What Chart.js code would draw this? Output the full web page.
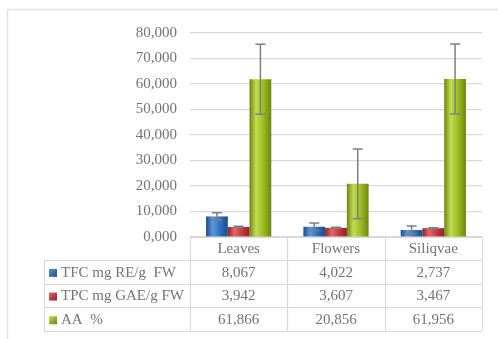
<!DOCTYPE html>
<html>
<head>
<meta charset="utf-8">
<script src="https://cdn.jsdelivr.net/npm/chart.js@4.4.1/dist/chart.umd.min.js"></script>
<style>
  html, body { margin: 0; padding: 0; background: #ffffff; }
  canvas { display: block; }
</style>
</head>
<body>
<canvas id="chart" width="498" height="339"></canvas>
<script>
// chart data
const categories = ["Leaves", "Flowers", "Siliqvae"];
const seriesNames = ["TFC mg RE/g  FW", "TPC mg GAE/g FW", "AA  %"];
const tfcValues = [8.067, 4.022, 2.737];
const tpcValues = [3.942, 3.607, 3.467];
const aaValues = [61.866, 20.856, 61.956];
const tfcErrors = [1.4, 1.5, 1.55];
const tpcErrors = [0.25, 0.2, 0.2];
const aaErrors = [13.7, 13.7, 13.75];
const yTicks = [0, 10, 20, 30, 40, 50, 60, 70, 80];

const FONT = "'Liberation Serif', 'Times New Roman', serif";
const TEXT_COLOR = "#737373";
const LINE_COLOR = "#d9d9d9";

// dark edge, highlight, base, dark edge
const shades = [
    ["#1d4b86", "#5b97dc", "#2f6fbf", "#1d4b86"],
    ["#8e2224", "#e2676a", "#c53a3c", "#8e2224"],
    ["#6b8612", "#c2dc52", "#9bbb1e", "#6b8612"],
];

const formatNum = (v) => v.toFixed(3).replace(".", ",");

// frame around the chart
const framePlugin = {
    id: "frame",
    beforeDraw(chart) {
        const ctx = chart.ctx;
        ctx.save();
        ctx.strokeStyle = "#e2e2e2";
        ctx.lineWidth = 1.5;
        ctx.beginPath();
        ctx.moveTo(7.5, 339);
        ctx.lineTo(7.5, 9.5);
        ctx.lineTo(498, 9.5);
        ctx.stroke();
        ctx.restore();
    },
};

// cylinder-like shading for each bar
const shadePlugin = {
    id: "shade",
    beforeDatasetsDraw(chart) {
        const ctx = chart.ctx;
        chart.data.datasets.forEach((ds, di) => {
            const meta = chart.getDatasetMeta(di);
            const s = shades[di];
            meta.data.forEach((bar) => {
                const left = bar.x - bar.width / 2;
                const g = ctx.createLinearGradient(left, 0, left + bar.width, 0);
                g.addColorStop(0, s[0]);
                g.addColorStop(0.3, s[1]);
                g.addColorStop(0.65, s[2]);
                g.addColorStop(1, s[3]);
                bar.options.backgroundColor = g;
            });
        });
    },
};

// error bars
const errorBarPlugin = {
    id: "errorBars",
    afterDatasetsDraw(chart) {
        const ctx = chart.ctx;
        const y = chart.scales.y;
        ctx.save();
        ctx.strokeStyle = "#7f7f7f";
        ctx.lineWidth = 1.5;
        chart.data.datasets.forEach((ds, di) => {
            const meta = chart.getDatasetMeta(di);
            meta.data.forEach((bar, i) => {
                const v = ds.data[i];
                const e = ds.errors[i];
                const top = y.getPixelForValue(v + e);
                const bot = y.getPixelForValue(v - e);
                ctx.beginPath();
                ctx.moveTo(bar.x, top);
                ctx.lineTo(bar.x, bot);
                ctx.moveTo(bar.x - 5, top);
                ctx.lineTo(bar.x + 5, top);
                ctx.moveTo(bar.x - 5, bot);
                ctx.lineTo(bar.x + 5, bot);
                ctx.stroke();
            });
        });
        ctx.restore();
    },
};

// data table below the plot
const tablePlugin = {
    id: "dataTable",
    afterDraw(chart) {
        const ctx = chart.ctx;
        const area = chart.chartArea;
        const x = chart.scales.x;
        const colW = (area.right - area.left) / categories.length;
        const headTop = area.bottom;
        const rowTop = 260;
        const rowH = 23.7;
        const tableLeft = 44;
        const tableBottom = rowTop + rowH * seriesNames.length;

        ctx.save();
        ctx.strokeStyle = LINE_COLOR;
        ctx.lineWidth = 1.2;
        ctx.beginPath();
        // vertical lines of the value columns
        for (let i = 0; i <= categories.length; i++) {
            const lx = Math.round(area.left + i * colW) + 0.5;
            ctx.moveTo(lx, headTop);
            ctx.lineTo(lx, tableBottom);
        }
        ctx.moveTo(tableLeft + 0.5, rowTop);
        ctx.lineTo(tableLeft + 0.5, tableBottom);
        // horizontal lines
        ctx.moveTo(area.left, headTop + 0.5);
        ctx.lineTo(area.right, headTop + 0.5);
        for (let r = 0; r <= seriesNames.length; r++) {
            const ly = Math.round(rowTop + r * rowH) + 0.5;
            ctx.moveTo(tableLeft, ly);
            ctx.lineTo(area.right, ly);
        }
        ctx.stroke();

        ctx.fillStyle = TEXT_COLOR;
        ctx.font = "15px " + FONT;
        ctx.textBaseline = "middle";
        ctx.textAlign = "center";
        categories.forEach((c, i) => {
            ctx.fillText(c, x.getPixelForValue(i), headTop + (rowTop - headTop) / 2 + 1);
        });

        chart.data.datasets.forEach((ds, di) => {
            const cy = rowTop + rowH * di + rowH / 2 + 1;
            // legend key
            const s = shades[di];
            const g = ctx.createLinearGradient(49, cy - 4, 57, cy + 4);
            g.addColorStop(0, s[1]);
            g.addColorStop(1, s[0]);
            ctx.fillStyle = g;
            ctx.fillRect(49, cy - 4, 8, 8);
            ctx.fillStyle = TEXT_COLOR;
            ctx.textAlign = "left";
            ctx.fillText(ds.label, 61, cy);
            ctx.textAlign = "center";
            ds.data.forEach((v, i) => {
                ctx.fillText(formatNum(v), x.getPixelForValue(i), cy);
            });
        });
        ctx.restore();
    },
};

new Chart(document.getElementById("chart"), {
    type: "bar",
    data: {
        labels: categories,
        datasets: [
            { label: seriesNames[0], data: tfcValues, errors: tfcErrors, backgroundColor: () => shades[0][2] },
            { label: seriesNames[1], data: tpcValues, errors: tpcErrors, backgroundColor: () => shades[1][2] },
            { label: seriesNames[2], data: aaValues, errors: aaErrors, backgroundColor: () => shades[2][2] },
        ],
    },
    options: {
        responsive: false,
        animation: false,
        layout: { padding: { top: 33, right: 16, bottom: 102, left: 0 } },
        datasets: {
            bar: { categoryPercentage: 0.67, barPercentage: 1.0 },
        },
        plugins: {
            legend: { display: false },
            tooltip: { enabled: false },
        },
        scales: {
            x: { display: false },
            y: {
                min: 0,
                max: 80,
                afterBuildTicks: (scale) => {
                    scale.ticks = yTicks.map((v) => ({ value: v }));
                },
                afterFit: (scale) => {
                    scale.width = 190;
                },
                border: { display: false },
                grid: { color: LINE_COLOR, lineWidth: 1.2, drawTicks: false },
                ticks: {
                    padding: 13,
                    color: TEXT_COLOR,
                    font: { family: FONT, size: 15 },
                    callback: (v) => formatNum(v),
                },
            },
        },
    },
    plugins: [framePlugin, shadePlugin, errorBarPlugin, tablePlugin],
});
</script>
</body>
</html>
